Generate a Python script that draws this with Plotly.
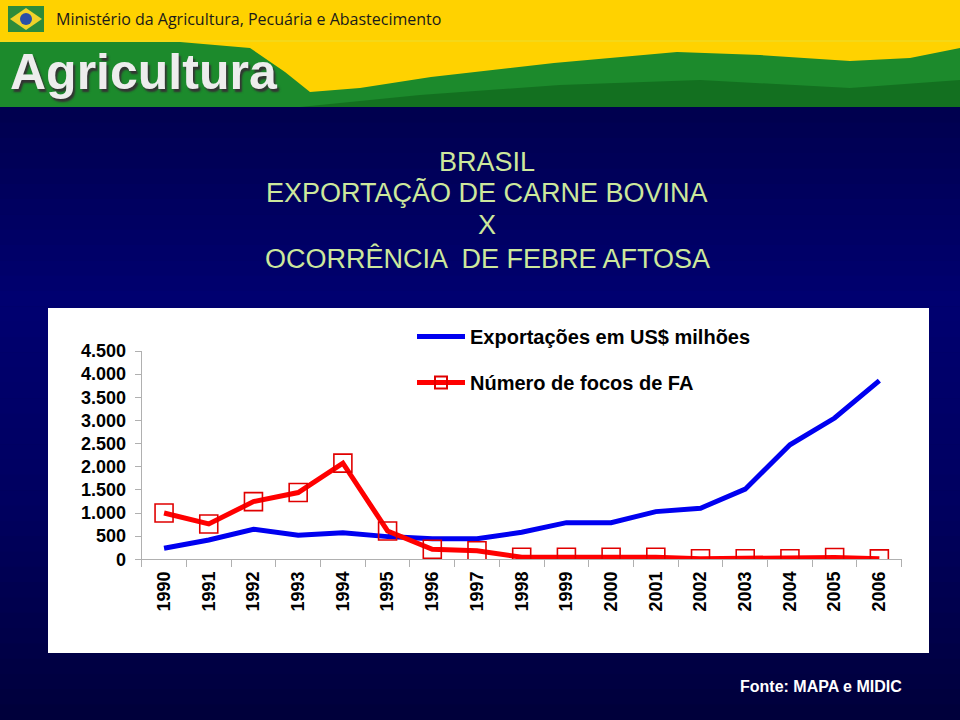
import numpy as np
import plotly.graph_objects as go

# ---------------- data ----------------
years = [str(y) for y in range(1990, 2007)]
exportacoes = [238, 418, 650, 520, 576, 490, 446, 446, 584, 792, 792, 1030, 1104, 1515, 2474, 3052, 3860]
focos_fa = [1000, 764, 1247, 1442, 2078, 612, 216, 186, 43, 43, 43, 43, 13, 13, 13, 40, 10]
y_ticks = [0, 500, 1000, 1500, 2000, 2500, 3000, 3500, 4000, 4500]

title_lines = ["BRASIL", "EXPORTAÇÃO DE CARNE BOVINA", "X", "OCORRÊNCIA  DE FEBRE AFTOSA"]
series_names = ["Exportações em US$ milhões", "Número de focos de FA"]
source_text = "Fonte: MAPA e MIDIC"
ministry_text = "Ministério da Agricultura, Pecuária e Abastecimento"
banner_text = "Agricultura"

W, H = 960, 720
FONT = "Liberation Sans, Arial, sans-serif"


def px(x):
    return x / W


def py(y):
    return 1 - y / H


shapes = []

# navy slide background gradient
def lerp(c1, c2, t):
    return tuple(int(round(a + (b - a) * t)) for a, b in zip(c1, c2))

stops = [(107, (0, 0, 78)), (300, (0, 0, 112)), (500, (0, 0, 96)), (720, (0, 0, 58))]
bands = 40
edges = np.linspace(107, 720, bands + 1)
for i in range(bands):
    ym = (edges[i] + edges[i + 1]) / 2
    for (y0, c0), (y1, c1) in zip(stops[:-1], stops[1:]):
        if y0 <= ym <= y1:
            col = lerp(c0, c1, (ym - y0) / (y1 - y0))
            break
    shapes.append(dict(type="rect", xref="paper", yref="paper", layer="below",
                       x0=0, x1=1, y0=py(edges[i + 1] + 0.5), y1=py(edges[i]),
                       fillcolor="rgb(%d,%d,%d)" % col, line=dict(width=0)))

# banner: yellow base
shapes.append(dict(type="rect", xref="paper", yref="paper", layer="below",
                   x0=0, x1=1, y0=py(107), y1=1, fillcolor="#FFD200", line=dict(width=0)))
# green flag wave
wave = [(0, 42), (180, 42), (250, 48), (285, 72), (310, 92), (360, 88), (431, 77), (554, 63),
        (677, 52), (760, 55), (850, 61), (910, 58), (960, 48), (960, 107), (0, 107)]
path = "M " + " L ".join("%f,%f" % (px(x), py(y)) for x, y in wave) + " Z"
shapes.append(dict(type="path", xref="paper", yref="paper", layer="below", path=path,
                   fillcolor="#1C8A2C", line=dict(width=0)))
dark = [(300, 107), (420, 95), (560, 85), (700, 80), (850, 88), (960, 80), (960, 107)]
path2 = "M " + " L ".join("%f,%f" % (px(x), py(y)) for x, y in dark) + " Z"
shapes.append(dict(type="path", xref="paper", yref="paper", layer="below", path=path2,
                   fillcolor="#137020", line=dict(width=0)))
shapes.append(dict(type="rect", xref="paper", yref="paper", layer="below",
                   x0=0, x1=1, y0=py(42), y1=py(40), fillcolor="#F5D818", line=dict(width=0)))
# small logo
shapes.append(dict(type="rect", xref="paper", yref="paper", layer="below",
                   x0=px(8), x1=px(44), y0=py(32), y1=py(6), fillcolor="#2E8B3A", line=dict(width=0)))
shapes.append(dict(type="path", xref="paper", yref="paper", layer="below",
                   path="M %f,%f L %f,%f L %f,%f L %f,%f Z" % (px(26), py(8), px(42), py(19), px(26), py(30), px(10), py(19)),
                   fillcolor="#F2D22A", line=dict(width=0)))
shapes.append(dict(type="circle", xref="paper", yref="paper", layer="below",
                   x0=px(20), x1=px(32), y0=py(25), y1=py(13), fillcolor="#2A4FA8", line=dict(width=0)))

# white chart panel
shapes.append(dict(type="rect", xref="paper", yref="paper", layer="below",
                   x0=px(48), x1=px(929), y0=py(653), y1=py(308), fillcolor="white", line=dict(width=0)))

annotations = []
title_y = [162, 193, 225, 258]
for t, yy in zip(title_lines, title_y):
    annotations.append(dict(text=t, xref="paper", yref="paper", x=px(487), y=py(yy),
                            xanchor="center", yanchor="middle", showarrow=False,
                            font=dict(family=FONT, size=27, color="#CDE89C")))
annotations.append(dict(text=source_text, xref="paper", yref="paper", x=px(821), y=py(686),
                        xanchor="center", yanchor="middle", showarrow=False,
                        font=dict(family=FONT, size=16, color="white", weight="bold")))
annotations.append(dict(text=ministry_text, xref="paper", yref="paper", x=px(54), y=py(19),
                        xanchor="left", yanchor="middle", showarrow=False,
                        font=dict(family="Open Sans, Liberation Sans, sans-serif", size=16, color="#1A1A1A")))
annotations.append(dict(text=banner_text, xref="paper", yref="paper", x=px(8), y=py(72),
                        xanchor="left", yanchor="middle", showarrow=False,
                        font=dict(family=FONT, size=50, color="#EDEDED", weight="bold",
                                  shadow="2px 3px 2px #333333")))

fig = go.Figure()
fig.add_trace(go.Scatter(x=years, y=exportacoes, name=series_names[0], mode="lines",
                         line=dict(color="#0000F0", width=5), legendgroup="a"))
fig.add_trace(go.Scatter(x=years, y=focos_fa, name=series_names[1], mode="lines+markers",
                         line=dict(color="#FF0000", width=5), legendgroup="b",
                         marker=dict(symbol="square-open", size=18, color="#E00000",
                                     line=dict(width=1.6, color="#E00000"))))

fig.update_layout(
    width=W, height=H,
    margin=dict(l=0, r=0, t=0, b=0, pad=0, autoexpand=False),
    paper_bgcolor="#000048",
    plot_bgcolor="rgba(0,0,0,0)",
    separators=",.",
    shapes=shapes,
    annotations=annotations,
    showlegend=True,
    legend=dict(x=px(412), y=py(317), xanchor="left", yanchor="top",
                bgcolor="rgba(0,0,0,0)", itemwidth=48, tracegroupgap=17,
                font=dict(family=FONT, size=20, color="black", weight="bold"),
                itemsizing="constant"),
    xaxis=dict(domain=[px(141.7), px(901.7)], type="category", categoryorder="array",
               categoryarray=years, range=[-0.5, 16.5], tickson="boundaries",
               ticks="outside", ticklen=7, tickcolor="#B0B0B0", showline=True,
               linecolor="#B0B0B0", linewidth=1, showgrid=False, zeroline=False,
               tickangle=-90, ticklabelstandoff=4, automargin=False,
               tickfont=dict(family=FONT, size=18, color="black", weight="bold")),
    yaxis=dict(domain=[py(559.3), py(351)], range=[0, 4500], tickvals=y_ticks,
               tickformat=",d", ticks="outside", ticklen=6, tickcolor="#B0B0B0",
               showline=True, linecolor="#B0B0B0", linewidth=1, showgrid=False,
               zeroline=False, ticklabelstandoff=5, automargin=False,
               tickfont=dict(family=FONT, size=18, color="black", weight="bold")),
)

fig.write_html("out.html", config={"displayModeBar": False},
               post_script="document.body.style.margin='0';document.body.style.padding='0';")
